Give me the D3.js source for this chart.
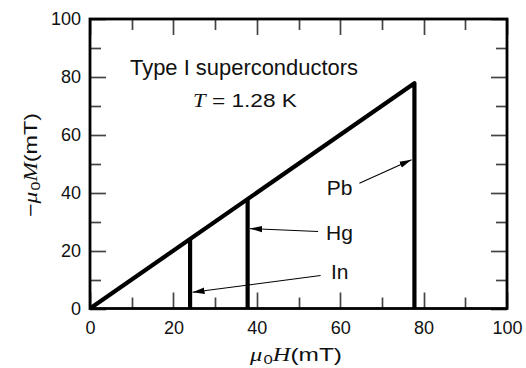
<!DOCTYPE html>
<html><head><meta charset="utf-8">
<script src="https://cdn.jsdelivr.net/npm/d3@7"></script>
<style>body{margin:0;background:#fff}svg{display:block}</style>
</head><body>
<script>
// ---- data ----
const elements = ["In", "Hg", "Pb"];
const criticalField = [24, 37.8, 77.8];          // μ0Hc (mT): −μ0M = μ0H up to Hc, then drops to 0
const majorTicks = [0, 20, 40, 60, 80, 100];
const minorTicks = [10, 30, 50, 70, 90];
const tickLabels = ["0", "20", "40", "60", "80", "100"];
const labelAnchor = [[57.8, 10.2], [56.6, 23.8], [56.8, 39.3]];  // label positions (mT, mT)
const arrowFrom = [[55.3, 11.4], [54.7, 26.6], [64.6, 43.3]];
const arrowTo = [[24.6, 5.6], [38.4, 27.6], [77.1, 51.4]];
const titleText = "Type I superconductors";
const tempText = ["T", " = 1.28 K"];

// ---- chart ----
const W = 526, H = 368;
const sans = "'Liberation Sans', Arial, Helvetica, sans-serif";
const serif = "'Liberation Serif', 'Times New Roman', serif";
const x = d3.scaleLinear().domain([0, 100]).range([90, 507]);
const y = d3.scaleLinear().domain([0, 100]).range([308.5, 19]);

const svg = d3.select("body").append("svg").attr("width", W).attr("height", H)
  .style("font-family", sans);

const defs = svg.append("defs");
defs.append("marker").attr("id", "ah").attr("markerUnits", "userSpaceOnUse")
  .attr("viewBox", "0 -5 12 10").attr("refX", 12).attr("refY", 0)
  .attr("markerWidth", 12).attr("markerHeight", 10).attr("orient", "auto")
  .append("path").attr("d", "M0,-3.2L12,0L0,3.2Z").attr("fill", "#000");

// tick labels via d3 axes
const fmt = (d) => tickLabels[majorTicks.indexOf(d)];
const gb = svg.append("g").attr("transform", `translate(0,${y(0)})`)
  .call(d3.axisBottom(x).tickValues(majorTicks).tickSize(0).tickPadding(13).tickFormat(fmt));
const gl = svg.append("g").attr("transform", `translate(${x(0)},0)`)
  .call(d3.axisLeft(y).tickValues(majorTicks).tickSize(0).tickPadding(9).tickFormat(fmt));
[gb, gl].forEach(g => {
  g.select(".domain").remove();
  g.selectAll(".tick line").remove();
  g.selectAll(".tick text").attr("font-size", 18).attr("fill", "#111").style("font-family", sans);
});

// inward ticks on all four sides
const allTicks = majorTicks.map(v => ({ v: v, len: 16 })).concat(minorTicks.map(v => ({ v: v, len: 11 })));
const tg = svg.append("g").attr("class", "ticks");
allTicks.forEach(d => {
  const px = Math.round(x(d.v)) + 0.5, py = Math.round(y(d.v)) + 0.5;
  tg.append("line").attr("x1", px).attr("x2", px).attr("y1", y(0)).attr("y2", y(0) - d.len);
  tg.append("line").attr("x1", px).attr("x2", px).attr("y1", y(100)).attr("y2", y(100) + d.len);
  tg.append("line").attr("y1", py).attr("y2", py).attr("x1", x(0)).attr("x2", x(0) + d.len);
  tg.append("line").attr("y1", py).attr("y2", py).attr("x1", x(100)).attr("x2", x(100) - d.len);
});
tg.selectAll("line").style("stroke", "#444").style("stroke-width", "1.7px");

// frame
svg.append("rect").attr("x", x(0)).attr("y", y(100))
  .attr("width", x(100) - x(0)).attr("height", y(0) - y(100))
  .attr("fill", "none").attr("stroke", "#000").attr("stroke-width", 2.8);

// data lines
const lineGen = d3.line().x(d => x(d[0])).y(d => y(d[1]));
const hMax = d3.max(criticalField);
svg.append("path").attr("d", lineGen([[0, 0], [hMax, hMax], [hMax, 0]]))
  .attr("fill", "none").attr("stroke", "#000").attr("stroke-width", 4.2)
  .attr("stroke-linejoin", "round");
svg.selectAll("path.vert").data(criticalField.filter(v => v < hMax)).join("path")
  .attr("class", "vert")
  .attr("d", d => lineGen([[d, d], [d, 0]]))
  .attr("fill", "none").attr("stroke", "#000").attr("stroke-width", 4.2);

// arrows + labels
svg.selectAll("line.arr").data(elements).join("line").attr("class", "arr")
  .attr("x1", (d, i) => x(arrowFrom[i][0])).attr("y1", (d, i) => y(arrowFrom[i][1]))
  .attr("x2", (d, i) => x(arrowTo[i][0])).attr("y2", (d, i) => y(arrowTo[i][1]))
  .attr("stroke", "#000").attr("stroke-width", 1.1).attr("marker-end", "url(#ah)");
svg.selectAll("text.el").data(elements).join("text").attr("class", "el")
  .attr("x", (d, i) => x(labelAnchor[i][0])).attr("y", (d, i) => y(labelAnchor[i][1]))
  .attr("font-size", 21).attr("fill", "#111").text(d => d);

// title & temperature
svg.append("text").attr("x", 130).attr("y", 75).attr("font-size", 21.5)
  .attr("fill", "#111").attr("textLength", 228).attr("lengthAdjust", "spacingAndGlyphs")
  .text(titleText);
const tt = svg.append("text").attr("x", 193).attr("y", 107).attr("font-size", 18.5)
  .attr("fill", "#111").attr("textLength", 104).attr("lengthAdjust", "spacingAndGlyphs");
tt.append("tspan").style("font-family", serif).attr("font-style", "italic").text(tempText[0]);
tt.append("tspan").text(tempText[1]);

// axis titles
function axisTitle(g, sym, minus) {
  if (minus) g.append("tspan").text("\u2212");
  g.append("tspan").style("font-family", serif).attr("font-style", "italic").text("\u03bc");
  g.append("tspan").attr("font-size", 13).attr("dx", 1).attr("dy", 3).text("0");
  g.append("tspan").attr("dy", -3).style("font-family", serif).attr("font-style", "italic").text(sym);
  g.append("tspan").text("(mT)");
}
const xt = svg.append("text").attr("x", 250).attr("y", 361).attr("font-size", 19)
  .attr("fill", "#111").attr("textLength", 92).attr("lengthAdjust", "spacingAndGlyphs");
axisTitle(xt, "H", false);
const yt = svg.append("text").attr("transform", `translate(37,217) rotate(-90)`)
  .attr("font-size", 19).attr("fill", "#111")
  .attr("textLength", 104).attr("lengthAdjust", "spacingAndGlyphs");
axisTitle(yt, "M", true);
</script>
</body></html>
